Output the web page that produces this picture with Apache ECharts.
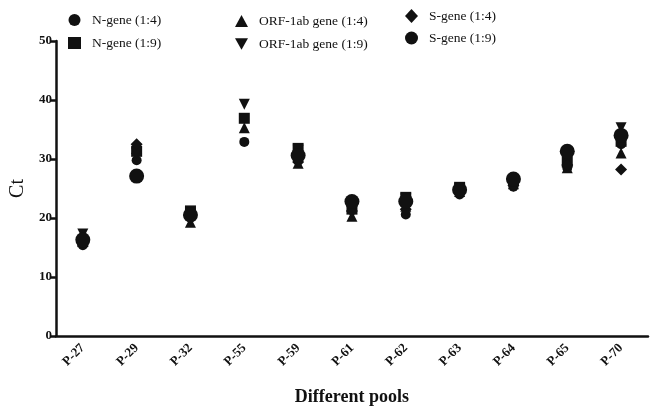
<!DOCTYPE html>
<html>
<head>
<meta charset="utf-8">
<script src="https://cdn.jsdelivr.net/npm/echarts@6/dist/echarts.min.js"></script>
<style>
  html, body { margin: 0; padding: 0; background: #fff; }
  #chart { width: 652px; height: 411px; }
</style>
</head>
<body>
<div id="chart"></div>
<script>
// pools on the x axis
const pools = ["P-27", "P-29", "P-32", "P-55", "P-59", "P-61", "P-62", "P-63", "P-64", "P-65", "P-70"];

// Ct values per gene / dilution
const nGene14 = [15.4, 29.8, 20.3, 32.9, 30.0, 22.0, 20.6, 24.0, 25.3, 28.5, 32.5];
const nGene19 = [16.0, 31.3, 21.2, 36.9, 31.8, 21.5, 23.5, 25.2, 26.5, 29.5, 33.0];
const orf14 = [16.5, 31.8, 19.3, 35.3, 29.3, 20.3, 22.0, 24.5, 25.8, 28.5, 31.0];
const orf19 = [17.3, 31.0, 20.8, 39.3, 31.5, 21.0, 23.2, 25.0, 26.2, 30.0, 35.3];
const sGene14 = [16.0, 32.5, 20.0, null, 29.5, 21.2, 21.5, 24.3, 25.5, 29.0, 28.2];
const sGene19 = [16.3, 27.1, 20.5, null, 30.6, 22.8, 22.8, 24.8, 26.6, 31.3, 34.0];

const yTicks = [0, 10, 20, 30, 40, 50];

const serif = "Liberation Serif";
const ink = "#111";

const chart = echarts.init(document.getElementById("chart"));

const mk = (name, data, symbol, size) => ({
  name: name,
  type: "scatter",
  data: data,
  symbol: symbol,
  symbolSize: size,
  itemStyle: { color: ink, opacity: 1 },
});

const legendBase = {
  orient: "vertical",
  itemWidth: 13,
  itemHeight: 12,
  itemGap: 9,
  textStyle: { fontFamily: serif, fontSize: 13.5, color: ink, padding: [0, 0, 0, 6] },
};

chart.setOption({
  animation: false,
  legend: [
    Object.assign({}, legendBase, { left: 63, top: 8, data: ["N-gene (1:4)", "N-gene (1:9)"] }),
    Object.assign({}, legendBase, { left: 230, top: 9, data: ["ORF-1ab gene (1:4)", "ORF-1ab gene (1:9)"] }),
    Object.assign({}, legendBase, { left: 400, top: 4, itemHeight: 14, itemGap: 8, data: ["S-gene (1:4)", "S-gene (1:9)"] }),
  ],
  grid: { left: 52, right: 4, top: 41, bottom: 73 },
  xAxis: {
    type: "category",
    data: pools,
    name: "Different pools",
    nameLocation: "middle",
    nameGap: 52,
    nameTextStyle: { fontFamily: serif, fontSize: 18, fontWeight: "bold", color: ink },
    axisLine: { lineStyle: { color: ink, width: 2.5 } },
    axisTick: { alignWithLabel: true, length: 6, lineStyle: { color: ink, width: 2.5 } },
    axisLabel: { rotate: 45, fontFamily: serif, fontSize: 13, fontWeight: "bold", color: ink, margin: 10 },
    splitLine: { show: false },
  },
  yAxis: {
    type: "value",
    min: yTicks[0],
    max: yTicks[yTicks.length - 1],
    interval: 10,
    name: "Ct",
    nameLocation: "middle",
    nameGap: 24,
    nameTextStyle: { fontFamily: serif, fontSize: 20, color: ink },
    axisLine: { show: true, lineStyle: { color: ink, width: 2.5 } },
    axisTick: { show: true, length: 5, lineStyle: { color: ink, width: 2.5 } },
    axisLabel: { fontFamily: serif, fontSize: 13, fontWeight: "bold", color: ink, margin: 4 },
    splitLine: { show: false },
  },
  series: [
    mk("N-gene (1:4)", nGene14, "circle", 10),
    mk("N-gene (1:9)", nGene19, "rect", 11),
    mk("ORF-1ab gene (1:4)", orf14, "triangle", 11),
    mk("ORF-1ab gene (1:9)", orf19, "path://M0,0L10,0L5,9Z", 11),
    mk("S-gene (1:4)", sGene14, "diamond", 12),
    mk("S-gene (1:9)", sGene19, "circle", 15),
  ],
});
</script>
</body>
</html>
